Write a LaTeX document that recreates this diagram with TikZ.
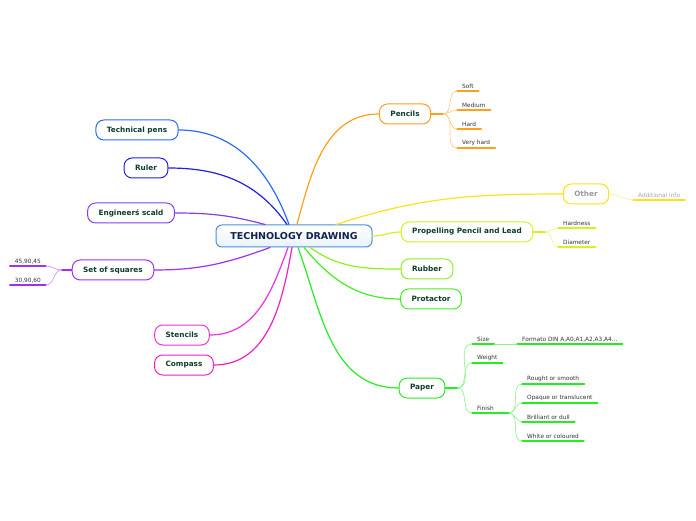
\documentclass[tikz,border=0pt]{standalone}
\usepackage{fontspec}
\setmainfont{DejaVu Sans}
\definecolor{RootBlue}{HTML}{4A90D9}
\definecolor{RootText}{HTML}{12224A}
\definecolor{TopicText}{HTML}{0E3B2E}
\definecolor{LeafText}{HTML}{333333}
\definecolor{PensBlue}{HTML}{2A6BFF}
\definecolor{RulerBlue}{HTML}{2020DD}
\definecolor{EngPurple}{HTML}{8040F0}
\definecolor{SqPurple}{HTML}{A030F0}
\definecolor{StencilPink}{HTML}{F030E0}
\definecolor{CompassPink}{HTML}{F020C0}
\definecolor{PencilOrange}{HTML}{FF9F1A}
\definecolor{OtherYellow}{HTML}{FFE21A}
\definecolor{PropelLime}{HTML}{D8F020}
\definecolor{RubberGreen}{HTML}{8CF020}
\definecolor{ProtGreen}{HTML}{44EE22}
\definecolor{PaperGreen}{HTML}{22EE22}
\usetikzlibrary{arrows.meta}

\begin{document}
\begin{tikzpicture}[x=1pt, y=1pt, line cap=round,
  topic/.style={draw=#1, line width=1pt, rounded corners=8pt, fill=white,
                minimum height=20pt, inner xsep=11pt, text=TopicText,
                font=\fontsize{7.3}{8.5}\selectfont\bfseries},
  leaf/.style={anchor=south west, inner xsep=5pt, inner ysep=2pt, text=LeafText,
               font=\fontsize{5.8}{7}\selectfont,
               append after command={(\tikzlastnode.south west) edge[draw=#1, line width=1.3pt] (\tikzlastnode.south east)}},
  branch/.style={draw=#1, line width=1.2pt},
  twig/.style={draw=#1!55, line width=0.6pt}]
  \useasboundingbox (0,0) rectangle (696,520);

  % centre
  \node[draw=RootBlue, line width=1pt, rounded corners=6pt, top color=white,
        bottom color=RootBlue!12, minimum width=156pt, minimum height=22pt,
        text=RootText, font=\fontsize{9.5}{11}\selectfont\bfseries]
        (root) at (294,284) {TECHNOLOGY DRAWING};

  % left topics
  \node[topic=PensBlue] (pens) at (137,390) {Technical pens};
  \node[topic=RulerBlue] (ruler) at (146,352) {Ruler};
  \node[topic=EngPurple] (engineers) at (131,307) {Engineerś scald};
  \node[topic=SqPurple] (squares) at (113,250) {Set of squares};
  \node[topic=StencilPink] (stencils) at (182,185) {Stencils};
  \node[topic=CompassPink] (compass) at (184,155) {Compass};

  % right topics
  \node[topic=PencilOrange] (pencils) at (405,406) {Pencils};
  \node[topic=OtherYellow, text=black!40] (other) at (586,326) {Other};
  \node[topic=PropelLime] (propel) at (467,288) {Propelling Pencil and Lead};
  \node[topic=RubberGreen] (rubber) at (427,251) {Rubber};
  \node[topic=ProtGreen] (protactor) at (431,221) {Protactor};
  \node[topic=PaperGreen] (paper) at (422,132) {Paper};

  % leaves
  \node[leaf=PencilOrange] (soft) at (457,429) {Soft};
  \node[leaf=PencilOrange] (medium) at (457,410) {Medium};
  \node[leaf=PencilOrange] (hard) at (457,391) {Hard};
  \node[leaf=PencilOrange] (veryhard) at (457,372) {Very hard};
  \node[leaf=OtherYellow, text=black!35] (addinfo) at (633,320) {Additional info};
  \node[leaf=PropelLime] (hardness) at (558,292) {Hardness};
  \node[leaf=PropelLime] (diameter) at (558,273) {Diameter};
  \node[leaf=PaperGreen] (size) at (472,176) {Size};
  \node[leaf=PaperGreen] (din) at (517,176) {Formato DIN A,A0,A1,A2,A3,A4...};
  \node[leaf=PaperGreen] (weight) at (472,157) {Weight};
  \node[leaf=PaperGreen] (finish) at (472,107) {Finish};
  \node[leaf=PaperGreen] (rough) at (522,136) {Rought or smooth};
  \node[leaf=PaperGreen] (opaque) at (522,117) {Opaque or translucent};
  \node[leaf=PaperGreen] (brilliant) at (522,98) {Brilliant or dull};
  \node[leaf=PaperGreen] (white) at (522,79) {White or coloured};
  \node[leaf=SqPurple, anchor=south east] (sqa) at (46,254) {45,90,45};
  \node[leaf=SqPurple, anchor=south east] (sqb) at (46,235) {30,90,60};

  % main branches
  \draw[branch=PensBlue] ([xshift=-5pt]root.north) to[out=110, in=0] (pens.east);
  \draw[branch=RulerBlue] ([xshift=-7pt]root.north) to[out=125, in=0] (ruler.east);
  \draw[branch=EngPurple] ([xshift=-29pt]root.north) to[out=165, in=0] (engineers.east);
  \draw[branch=SqPurple] ([xshift=-24pt]root.south) to[out=200, in=0] (squares.east);
  \draw[branch=StencilPink] ([xshift=-6pt]root.south) to[out=-110, in=0] (stencils.east);
  \draw[branch=CompassPink] ([xshift=-2pt]root.south) to[out=-100, in=0] (compass.east);
  \draw[branch=PencilOrange] ([xshift=3pt]root.north) to[out=75, in=180] (pencils.west);
  \draw[branch=OtherYellow] ([xshift=42pt]root.north) to[out=18, in=180] (other.west);
  \draw[branch=PropelLime] (root.east) to[out=0, in=180] (propel.west);
  \draw[branch=RubberGreen] ([xshift=16pt]root.south) to[out=-35, in=180] (rubber.west);
  \draw[branch=ProtGreen] ([xshift=10pt]root.south) to[out=-50, in=180] (protactor.west);
  \draw[branch=PaperGreen] ([xshift=4pt]root.south) to[out=-70, in=180] (paper.west);

  % sub branches
  \draw[branch=PencilOrange] (pencils.east) -- ++(12,0) coordinate (pencilfork);
  \foreach \n in {soft, medium, hard, veryhard}
    \draw[twig=PencilOrange] (pencilfork) to[out=0, in=180] (\n.south west);
  \draw[twig=OtherYellow] (other.east) to[out=0, in=180] (addinfo.south west);
  \draw[branch=PropelLime] (propel.east) -- ++(12,0) coordinate (propelfork);
  \foreach \n in {hardness, diameter}
    \draw[twig=PropelLime] (propelfork) to[out=0, in=180] (\n.south west);
  \draw[branch=PaperGreen] (paper.east) -- ++(12,0) coordinate (paperfork);
  \foreach \n in {size, weight, finish}
    \draw[twig=PaperGreen] (paperfork) to[out=0, in=180] (\n.south west);
  \draw[twig=PaperGreen] (size.south east) -- (din.south west);
  \draw[branch=PaperGreen] (finish.south east) -- ++(10,0) coordinate (finishfork);
  \foreach \n in {rough, opaque, brilliant, white}
    \draw[twig=PaperGreen] (finishfork) to[out=0, in=180] (\n.south west);
  \draw[branch=SqPurple] (squares.west) -- ++(-10,0) coordinate (squarefork);
  \foreach \n in {sqa, sqb}
    \draw[twig=SqPurple] (squarefork) to[out=180, in=0] (\n.south east);
\end{tikzpicture}
\end{document}
